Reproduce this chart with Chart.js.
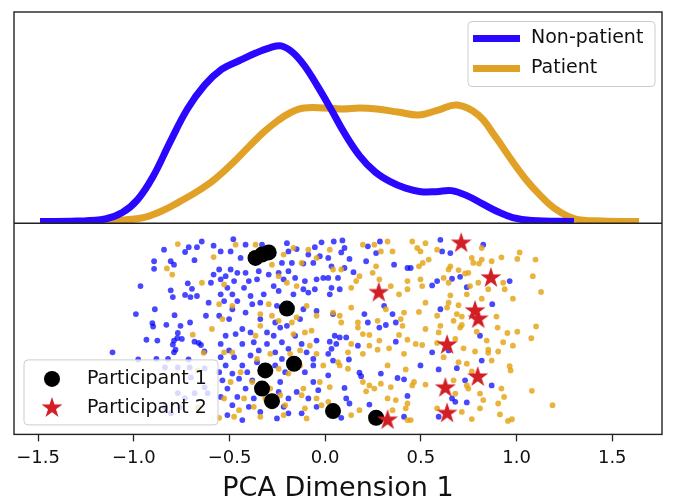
<!DOCTYPE html>
<html>
<head>
<meta charset="utf-8">
<script src="https://cdn.jsdelivr.net/npm/chart.js@4.4.0/dist/chart.umd.min.js"></script>
<style>
  html, body { margin: 0; padding: 0; background: #fff; }
  #wrap { width: 674px; height: 502px; }
</style>
</head>
<body>
<div id="wrap"><canvas id="chart"></canvas></div>
<script>
// x axis ticks
const xTicks = [-1.5, -1.0, -0.5, 0.0, 0.5, 1.0, 1.5];

// density curves (top panel)
const nonKdeX = [-1.49, -1.30, -1.15, -1.06, -0.98, -0.90, -0.81, -0.72, -0.63, -0.54, -0.45, -0.36, -0.29, -0.23,
  -0.17, -0.11, -0.04, 0.03, 0.10, 0.18, 0.26, 0.34, 0.42, 0.50, 0.58, 0.66, 0.74, 0.82, 0.90, 0.98, 1.08, 1.30];
const nonKdeY = [0.00, 0.004, 0.025, 0.09, 0.22, 0.45, 0.80, 1.13, 1.37, 1.53, 1.615, 1.695, 1.745, 1.765,
  1.70, 1.57, 1.36, 1.13, 0.89, 0.66, 0.50, 0.40, 0.335, 0.30, 0.30, 0.31, 0.26, 0.18, 0.10, 0.04, 0.01, 0.00];
const patKdeX = [-1.30, -1.10, -0.96, -0.86, -0.76, -0.67, -0.58, -0.49, -0.40, -0.32, -0.25, -0.18, -0.11, 0.00,
  0.09, 0.18, 0.27, 0.38, 0.49, 0.59, 0.69, 0.80, 0.89, 0.98, 1.05, 1.12, 1.20, 1.30, 1.45, 1.64];
const patKdeY = [0.00, 0.01, 0.035, 0.10, 0.20, 0.30, 0.42, 0.575, 0.75, 0.90, 1.01, 1.095, 1.14, 1.14,
  1.13, 1.14, 1.13, 1.10, 1.07, 1.12, 1.17, 1.07, 0.85, 0.60, 0.42, 0.27, 0.13, 0.03, 0.005, 0.00];

// individual samples (bottom panel), y is jitter only
const nonX = [-0.645,-0.670,-0.713,-0.732,-0.842,-0.683,-0.583,-0.894,-0.894,-0.807,
  -0.790,-0.965,-0.807,-0.796,-0.718,-0.696,-0.732,-0.670,-0.704,-0.583,
  -0.597,-0.609,-0.890,-0.787,-0.989,-0.903,-0.899,-0.830,-0.756,-0.770,
  -0.773,-0.706,-0.623,-0.934,-0.877,-0.790,-0.796,-0.749,-0.683,-0.661,
  -0.649,-0.782,-0.790,-1.111,-0.977,-0.882,-0.821,-0.714,-0.631,-0.837,
  -0.770,-0.708,-0.630,-0.702,-0.770,-0.733,-0.682,-0.630,-0.614,-0.837,
  -0.806,-0.759,
  -0.480,-0.416,-0.546,-0.494,-0.442,-0.330,-0.200,-0.192,-0.149,-0.054,
  -0.019,-0.028,-0.088,-0.226,-0.174,-0.114,-0.062,-0.347,-0.295,-0.243,
  -0.192,-0.554,-0.494,-0.459,-0.416,-0.520,-0.546,-0.476,-0.399,-0.356,
  -0.217,-0.157,-0.106,-0.045,-0.010,-0.511,-0.424,-0.269,-0.243,-0.114,
  -0.054,-0.546,-0.485,-0.390,-0.321,-0.166,-0.088,-0.528,-0.459,-0.381,
  -0.339,-0.252,-0.114,-0.045,-0.485,-0.416,-0.554,-0.502,-0.339,-0.261,
  -0.131,-0.235,-0.200,-0.433,-0.468,-0.520,-0.390,-0.304,-0.269,-0.157,
  -0.123,-0.045,-0.433,-0.373,-0.304,-0.226,-0.546,-0.502,-0.347,-0.261,
  -0.192,-0.097,-0.546,-0.476,-0.390,-0.226,-0.062,-0.520,-0.433,-0.356,
  -0.261,-0.062,-0.554,-0.485,-0.407,-0.209,-0.106,-0.537,-0.450,-0.381,
  -0.235,-0.062,-0.511,-0.416,-0.243,-0.149,-0.036,-0.546,-0.459,-0.373,
  -0.192,-0.088,-0.485,-0.399,-0.217,-0.045,-0.511,-0.339,-0.192,-0.123,
  -0.433,-0.252,
  0.045,0.090,0.084,0.101,0.016,0.127,0.033,0.101,0.148,0.214,
  0.266,0.286,0.223,0.360,0.430,0.447,0.016,0.067,0.033,0.024,
  0.076,0.559,0.308,0.205,0.223,0.283,0.317,0.352,0.369,0.041,
  0.050,0.076,0.110,0.024,0.058,0.033,0.016,0.171,0.369,0.559,
  0.124,0.041,0.498,0.179,0.188,0.291,0.378,0.412,0.016,0.101,
  0.110,0.127,0.231,0.430,0.084,0.412,
  0.602,0.826,0.611,0.654,0.585,0.663,0.705,0.740,0.964,0.873,
  0.602,0.809,0.645,0.818,0.593,0.688,0.731,0.870,0.663,0.680,
  0.740,0.593];
const nonY = [0.910,0.883,0.883,0.860,0.871,0.821,0.890,0.816,0.780,0.816,
  0.800,0.698,0.678,0.646,0.711,0.685,0.656,0.651,0.646,0.753,
  0.714,0.619,0.588,0.560,0.565,0.522,0.506,0.514,0.509,0.475,
  0.451,0.525,0.557,0.443,0.439,0.439,0.420,0.447,0.434,0.428,
  0.418,0.396,0.383,0.383,0.349,0.352,0.352,0.349,0.387,0.311,
  0.311,0.311,0.307,0.264,0.189,0.165,0.189,0.217,0.189,0.123,
  0.094,0.123,
  0.921,0.895,0.863,0.863,0.832,0.895,0.902,0.863,0.874,0.883,
  0.906,0.840,0.848,0.808,0.808,0.805,0.808,0.769,0.753,0.761,
  0.769,0.777,0.777,0.761,0.761,0.745,0.730,0.722,0.722,0.730,
  0.730,0.737,0.722,0.730,0.737,0.690,0.690,0.698,0.675,0.683,
  0.683,0.659,0.659,0.651,0.659,0.659,0.667,0.627,0.627,0.612,
  0.619,0.604,0.588,0.580,0.588,0.572,0.557,0.541,0.541,0.525,
  0.541,0.501,0.509,0.494,0.470,0.462,0.478,0.478,0.462,0.462,
  0.423,0.439,0.423,0.431,0.423,0.431,0.423,0.392,0.392,0.383,
  0.400,0.383,0.360,0.360,0.368,0.352,0.352,0.321,0.321,0.336,
  0.321,0.321,0.289,0.282,0.289,0.289,0.289,0.250,0.258,0.250,
  0.242,0.242,0.211,0.211,0.195,0.195,0.203,0.171,0.171,0.164,
  0.164,0.164,0.132,0.124,0.124,0.124,0.085,0.100,0.093,0.093,
  0.061,0.069,
  0.910,0.915,0.858,0.879,0.832,0.827,0.792,0.784,0.764,0.816,
  0.855,0.910,0.887,0.800,0.784,0.784,0.737,0.737,0.690,0.659,
  0.683,0.701,0.604,0.565,0.525,0.501,0.513,0.565,0.525,0.565,
  0.462,0.454,0.454,0.434,0.423,0.400,0.376,0.415,0.434,0.383,
  0.349,0.344,0.321,0.286,0.270,0.282,0.261,0.255,0.274,0.214,
  0.164,0.140,0.135,0.176,0.072,0.077,
  0.918,0.895,0.863,0.855,0.722,0.733,0.742,0.693,0.722,0.612,
  0.588,0.462,0.392,0.344,0.302,0.308,0.250,0.226,0.164,0.148,
  0.145,0.077];

const patX = [-0.770,-0.827,-0.799,-0.583,-0.644,-0.692,-0.592,-0.635,-0.666,-0.666,
  -0.468,-0.364,-0.278,-0.217,-0.166,-0.088,-0.045,-0.123,-0.243,-0.200,
  -0.149,-0.528,-0.554,-0.485,-0.537,-0.295,-0.339,-0.278,-0.243,-0.174,
  -0.149,-0.097,-0.045,-0.071,-0.106,-0.166,-0.364,-0.339,-0.528,-0.485,
  -0.287,-0.183,-0.131,-0.080,-0.045,-0.442,-0.356,-0.243,-0.131,-0.010,
  -0.192,-0.494,-0.381,-0.287,-0.114,-0.028,-0.528,-0.424,-0.313,-0.235,
  -0.123,-0.045,-0.450,-0.373,-0.209,-0.106,-0.019,-0.476,-0.339,-0.217,
  -0.097,-0.554,
  0.024,0.197,0.257,0.326,0.291,0.352,0.455,0.481,0.524,0.498,
  0.541,0.510,0.490,0.266,0.248,0.179,0.162,0.136,0.041,0.084,
  0.283,0.343,0.430,0.498,0.507,0.430,0.386,0.524,0.136,0.317,
  0.412,0.490,0.041,0.076,0.084,0.171,0.274,0.395,0.404,0.524,
  0.171,0.197,0.231,0.386,0.430,0.473,0.507,0.136,0.231,0.283,
  0.197,0.274,0.334,0.412,0.119,0.067,0.076,0.119,0.326,0.421,
  0.197,0.231,0.291,0.343,0.455,0.464,0.524,0.214,0.257,0.024,
  0.016,0.326,0.369,0.430,0.179,0.352,0.136,0.421,0.430,0.447,
  0.585,0.818,0.766,0.818,0.870,0.774,0.804,0.921,1.004,1.016,
  1.099,0.654,0.697,0.731,0.645,0.748,0.619,0.645,0.800,0.757,
  0.852,0.930,0.938,1.085,1.128,0.654,0.740,0.645,0.697,0.637,
  0.818,0.981,0.688,0.714,0.585,0.671,0.714,0.705,0.602,0.593,
  0.792,0.895,0.901,0.952,1.004,1.102,1.077,0.844,0.930,0.981,
  0.680,0.585,0.723,0.783,0.852,0.852,0.904,0.619,0.870,0.697,
  0.740,0.964,0.969,0.766,0.671,0.740,0.748,0.921,1.080,0.935,
  0.826,0.809,0.680,0.904,0.714,0.809,1.188,0.913,0.766,0.955,
  0.976,0.585];
const patY = [0.898,0.782,0.753,0.836,0.714,0.467,0.494,0.381,0.297,0.123,
  0.895,0.895,0.800,0.848,0.879,0.871,0.832,0.808,0.745,0.714,
  0.698,0.706,0.612,0.604,0.541,0.612,0.565,0.557,0.533,0.525,
  0.549,0.604,0.557,0.486,0.478,0.470,0.462,0.509,0.383,0.383,
  0.376,0.376,0.392,0.415,0.376,0.289,0.352,0.305,0.321,0.321,
  0.282,0.242,0.242,0.211,0.211,0.242,0.164,0.164,0.164,0.179,
  0.179,0.164,0.108,0.124,0.132,0.117,0.132,0.077,0.077,0.085,
  0.069,0.072,
  0.871,0.895,0.895,0.910,0.863,0.863,0.910,0.879,0.902,0.863,
  0.824,0.808,0.792,0.792,0.761,0.745,0.722,0.690,0.777,0.777,
  0.730,0.698,0.722,0.730,0.698,0.683,0.659,0.619,0.596,0.588,
  0.572,0.575,0.572,0.557,0.525,0.525,0.533,0.541,0.509,0.494,
  0.501,0.470,0.466,0.466,0.443,0.423,0.418,0.423,0.415,0.439,
  0.376,0.396,0.402,0.376,0.383,0.336,0.321,0.305,0.321,0.302,
  0.242,0.226,0.234,0.218,0.226,0.242,0.230,0.198,0.211,0.218,
  0.148,0.164,0.156,0.140,0.108,0.108,0.085,0.117,0.061,0.061,
  0.871,0.879,0.832,0.824,0.816,0.808,0.805,0.835,0.827,0.858,
  0.824,0.792,0.774,0.758,0.777,0.761,0.737,0.714,0.714,0.698,
  0.683,0.714,0.683,0.745,0.670,0.654,0.659,0.619,0.607,0.596,
  0.638,0.638,0.565,0.553,0.557,0.533,0.513,0.501,0.509,0.478,
  0.481,0.553,0.501,0.475,0.481,0.506,0.450,0.439,0.431,0.415,
  0.447,0.428,0.402,0.387,0.396,0.381,0.387,0.360,0.344,0.336,
  0.329,0.317,0.297,0.292,0.250,0.226,0.211,0.211,0.200,0.171,
  0.156,0.187,0.187,0.140,0.100,0.117,0.132,0.088,0.066,0.057,
  0.065,0.117];

// highlighted participants
const p1X = [-0.364, -0.330, -0.295, -0.200, -0.163, -0.313, -0.330, -0.278, 0.041, 0.266];
const p1Y = [0.832, 0.848, 0.858, 0.591, 0.329, 0.297, 0.211, 0.151, 0.104, 0.072];
const p2X = [0.711, 0.866, 0.280, 0.783, 0.800, 0.637, 0.797, 0.628, 0.637, 0.326];
const p2Y = [0.902, 0.737, 0.667, 0.580, 0.541, 0.418, 0.266, 0.214, 0.093, 0.061];

const zip = (xs, ys) => xs.map((x, i) => ({ x: x, y: ys[i] }));

// filled five-point star, used as point style
function makeStar(r, color) {
  const c = document.createElement('canvas');
  const s = Math.ceil(r * 2 + 2);
  c.width = s; c.height = s;
  const g = c.getContext('2d');
  g.translate(s / 2, s / 2);
  g.beginPath();
  for (let i = 0; i < 10; i++) {
    const rr = i % 2 === 0 ? r : r * 0.382;
    const a = -Math.PI / 2 + i * Math.PI / 5;
    if (i === 0) g.moveTo(rr * Math.cos(a), rr * Math.sin(a));
    else g.lineTo(rr * Math.cos(a), rr * Math.sin(a));
  }
  g.closePath();
  g.fillStyle = color;
  g.fill();
  return c;
}
const star = makeStar(11, '#d21f26');

const font = 'DejaVu Sans';

function legendBox(ctx, x, y, w, h) {
  ctx.beginPath();
  if (ctx.roundRect) ctx.roundRect(x, y, w, h, 4);
  else ctx.rect(x, y, w, h);
  ctx.fillStyle = 'rgba(255,255,255,0.8)';
  ctx.fill();
  ctx.strokeStyle = '#cccccc';
  ctx.lineWidth = 1;
  ctx.stroke();
}

const framePlugin = {
  id: 'frame',
  afterDatasetsDraw(chart) {
    const ctx = chart.ctx, a = chart.chartArea;
    const top = chart.scales.yTop;
    ctx.save();
    ctx.strokeStyle = '#222';
    ctx.lineWidth = 1.4;
    ctx.strokeRect(a.left, a.top, a.right - a.left, a.bottom - a.top);
    ctx.beginPath();
    ctx.moveTo(a.left, top.bottom);
    ctx.lineTo(a.right, top.bottom);
    ctx.stroke();
    ctx.restore();
  }
};

const legendPlugin = {
  id: 'panelLegends',
  afterDraw(chart) {
    const ctx = chart.ctx, a = chart.chartArea;
    const ds = chart.data.datasets;
    ctx.save();
    ctx.font = '19px "' + font + '"';
    ctx.textBaseline = 'middle';
    ctx.textAlign = 'left';

    // density legend, upper right
    let bx = a.right - 194, by = a.top + 9.5;
    legendBox(ctx, bx, by, 187, 65);
    [ds[0], ds[1]].forEach((d, i) => {
      const y = by + 17 + i * 30;
      ctx.strokeStyle = d.borderColor;
      ctx.lineWidth = 7;
      ctx.beginPath();
      ctx.moveTo(bx + 5, y);
      ctx.lineTo(bx + 52, y);
      ctx.stroke();
      ctx.fillStyle = '#111';
      ctx.fillText(d.label, bx + 63, y);
    });

    // participant legend, lower left
    bx = a.left + 10; by = a.bottom - 74.5;
    legendBox(ctx, bx, by, 194, 65);
    const c1 = by + 19, c2 = by + 48;
    ctx.fillStyle = '#000';
    ctx.beginPath();
    ctx.arc(bx + 28, c1, 8, 0, Math.PI * 2);
    ctx.fill();
    ctx.drawImage(star, bx + 28 - star.width / 2, c2 - star.height / 2);
    ctx.fillStyle = '#111';
    ctx.fillText(ds[4].label, bx + 63, c1);
    ctx.fillText(ds[5].label, bx + 63, c2);
    ctx.restore();
  }
};

new Chart(document.getElementById('chart'), {
  type: 'scatter',
  data: {
    datasets: [
      {
        label: 'Non-patient', data: zip(nonKdeX, nonKdeY), yAxisID: 'yTop', showLine: true,
        borderColor: '#2a08ff', borderWidth: 7, pointRadius: 0, tension: 0.4, order: 4
      },
      {
        label: 'Patient', data: zip(patKdeX, patKdeY), yAxisID: 'yTop', showLine: true,
        borderColor: '#e0a126', borderWidth: 7, pointRadius: 0, tension: 0.4, order: 5
      },
      {
        label: 'Non-patient samples', data: zip(nonX, nonY), yAxisID: 'yBot',
        backgroundColor: 'rgba(0,0,255,0.72)', borderWidth: 0, pointRadius: 2.9, order: 3
      },
      {
        label: 'Patient samples', data: zip(patX, patY), yAxisID: 'yBot',
        backgroundColor: 'rgba(228,163,18,0.82)', borderWidth: 0, pointRadius: 2.9, order: 2
      },
      {
        label: 'Participant 1', data: zip(p1X, p1Y), yAxisID: 'yBot',
        backgroundColor: '#000', borderWidth: 0, pointRadius: 8, order: 1
      },
      {
        label: 'Participant 2', data: zip(p2X, p2Y), yAxisID: 'yBot',
        pointStyle: star, pointRadius: 11, order: 0
      }
    ]
  },
  options: {
    responsive: true,
    maintainAspectRatio: false,
    animation: false,
    events: [],
    layout: { padding: { left: 14, right: 5, top: 9.5, bottom: 0 } },
    plugins: { legend: { display: false }, tooltip: { enabled: false } },
    scales: {
      x: {
        type: 'linear', position: 'bottom', min: -1.626, max: 1.760,
        afterBuildTicks: s => { s.ticks = xTicks.map(v => ({ value: v })); },
        grid: { display: true, drawOnChartArea: false, drawTicks: true, tickLength: 7, tickWidth: 1.3, tickColor: '#222' },
        border: { display: false },
        ticks: {
          color: '#111', padding: 6, maxRotation: 0, autoSkip: false,
          font: { family: font, size: 18 },
          callback: v => (v < 0 ? '\u2212' : '') + Math.abs(v).toFixed(1)
        },
        title: {
          display: true, text: 'PCA Dimension 1', color: '#111',
          font: { family: font, size: 27, lineHeight: 1.0 }, padding: { top: 0, bottom: 0 }
        }
      },
      yTop: {
        type: 'linear', position: 'right', stack: 'panels', stackWeight: 1,
        min: -0.017, max: 2.105, display: false
      },
      yBot: {
        type: 'linear', position: 'right', stack: 'panels', stackWeight: 1,
        min: -0.007, max: 0.997, display: false
      }
    }
  },
  plugins: [framePlugin, legendPlugin]
});
</script>
</body>
</html>
